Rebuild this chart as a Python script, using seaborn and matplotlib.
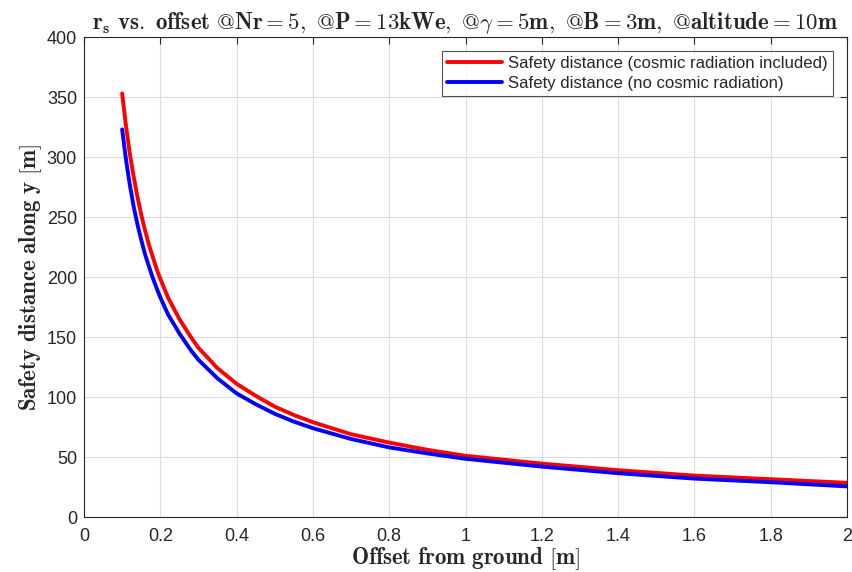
import numpy as np
import pandas as pd
import matplotlib
matplotlib.use("Agg")
import matplotlib.pyplot as plt
import seaborn as sns

offset = [0.10, 0.11, 0.12, 0.13, 0.14, 0.15, 0.16, 0.17, 0.18, 0.19, 0.20,
          0.22, 0.25, 0.28, 0.30, 0.35, 0.40, 0.45, 0.50, 0.55, 0.60,
          0.70, 0.80, 0.90, 1.00, 1.20, 1.40, 1.60, 1.80, 2.00]
with_cosmic = [353, 326, 303, 284, 267, 252, 239, 227, 217, 207, 198.5,
               183, 165, 150, 141, 124, 111, 101, 92, 85, 79,
               69, 62, 56, 51, 44.5, 39, 34.5, 31.5, 28.5]
no_cosmic = [323, 298, 277, 259, 244, 231, 219, 209, 199.5, 191, 183,
             169, 153, 139, 131, 115.5, 103, 94, 86, 79.5, 74,
             65, 58, 53, 48.5, 42, 36.5, 32, 29, 25.5]
series_names = ["Safety distance (cosmic radiation included)",
                "Safety distance (no cosmic radiation)"]
x_ticks = [0, 0.2, 0.4, 0.6, 0.8, 1, 1.2, 1.4, 1.6, 1.8, 2]
x_tick_labels = ["0", "0.2", "0.4", "0.6", "0.8", "1", "1.2", "1.4", "1.6", "1.8", "2"]
y_ticks = [0, 50, 100, 150, 200, 250, 300, 350, 400]

df = pd.DataFrame({
    "offset": offset * 2,
    "distance": with_cosmic + no_cosmic,
    "series": [series_names[0]] * len(offset) + [series_names[1]] * len(offset),
})

sns.set_theme(style="whitegrid")
plt.rcParams["font.family"] = ["Liberation Sans", "DejaVu Sans"]
plt.rcParams["mathtext.fontset"] = "cm"

fig = plt.figure(figsize=(8.52, 5.72), dpi=100)
ax = fig.add_axes([84 / 852, 1 - 517 / 572, (847 - 84) / 852, (517 - 37) / 572])

sns.lineplot(data=df, x="offset", y="distance", hue="series",
             palette={series_names[0]: "#ff0000", series_names[1]: "#0000ff"},
             linewidth=2.8, ax=ax, sort=True)

ax.set_xlim(0, 2)
ax.set_ylim(0, 400)
ax.set_xticks(x_ticks)
ax.set_xticklabels(x_tick_labels)
ax.set_yticks(y_ticks)
ax.tick_params(axis="both", direction="in", length=5, width=0.8, colors="#262626",
               labelsize=13, top=True, right=True, labeltop=False, labelright=False)
ax.tick_params(axis="x", pad=8)
ax.tick_params(axis="y", pad=5)
ax.set_facecolor("white")
ax.grid(True, color="#dcdcdc", linewidth=0.8)
for s in ax.spines.values():
    s.set_color("#262626")
    s.set_linewidth(0.8)

ax.set_title(r"$\mathbf{r_s\ vs.\ offset\ @Nr=5,\ @P=13kWe,\ @\gamma=5m,\ @B=3m,\ @altitude=10m}$",
             fontsize=16.5, pad=6)
ax.set_xlabel(r"$\mathbf{Offset\ from\ ground\ [m]}$", fontsize=16.5, labelpad=0)
ax.set_ylabel(r"$\mathbf{Safety\ distance\ along\ y\ [m]}$", fontsize=16.5, labelpad=2)

leg = ax.legend(loc="upper right", fontsize=12.1, frameon=True, fancybox=False,
                borderaxespad=0.85, handlelength=3.3, labelspacing=0.25,
                borderpad=0.3, handletextpad=0.35)
leg.get_frame().set_edgecolor("#262626")
leg.get_frame().set_linewidth(0.8)
leg.set_title(None)

fig.savefig("out.png", dpi=100)
